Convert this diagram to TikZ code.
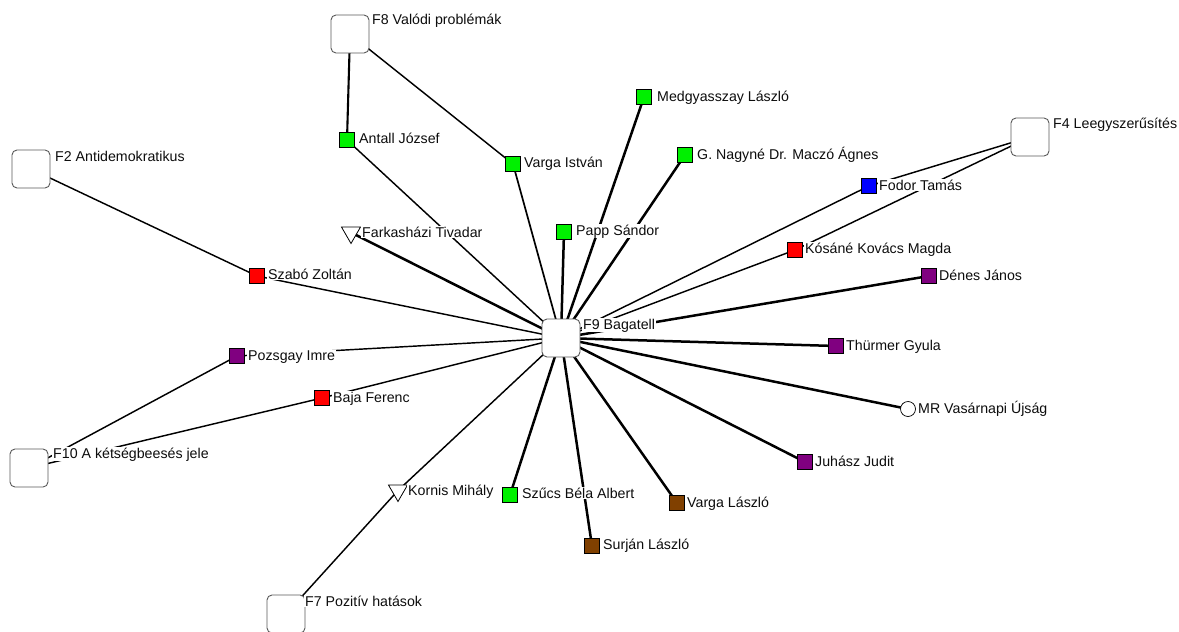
\documentclass[tikz,border=0pt]{standalone}
\usepackage{fontspec}
\setmainfont{Liberation Sans}
\usetikzlibrary{shapes.geometric,backgrounds}
\definecolor{vgreen}{RGB}{0,240,0}
\definecolor{vred}{RGB}{255,0,0}
\definecolor{vblue}{RGB}{0,0,255}
\definecolor{vpurple}{RGB}{128,0,128}
\definecolor{vbrown}{RGB}{128,64,0}
\begin{document}
\begin{tikzpicture}[x=1pt,y=-1pt,
  bigbox/.style={draw=black!65, fill=white, rounded corners=5pt, minimum size=38pt, inner sep=0pt, line width=0.9pt},
  sq/.style={draw=black, fill=#1, minimum size=15pt, inner sep=0pt, line width=0.7pt},
  tri/.style={draw=black, fill=white, regular polygon, regular polygon sides=3, shape border rotate=180, minimum size=22pt, inner sep=0pt, line width=0.8pt},
  circ/.style={draw=black, fill=white, circle, minimum size=15pt, inner sep=0pt, line width=0.7pt},
  lbl/.style={anchor=base west, fill=white, inner xsep=1pt, inner ysep=0.5pt, text=black!95, font=\fontsize{14.2pt}{16pt}\selectfont},
  tie/.style={line width=1.45pt, black},
  heavytie/.style={line width=2.5pt, black},
]
\useasboundingbox (0,0) rectangle (1179,632);

% big boxes
\node[bigbox] (F8) at (350,34) {};
\node[bigbox] (F2) at (31,169) {};
\node[bigbox] (F4) at (1030,137) {};
\node[bigbox] (F10) at (29,468) {};
\node[bigbox] (F7) at (286,614) {};
\node[bigbox] (F9) at (561,338) {};

% small nodes
\node[sq=vgreen] (antall) at (347,140) {};
\node[sq=vgreen] (vargai) at (513,164) {};
\node[sq=vgreen] (medgy) at (644,97) {};
\node[sq=vgreen] (nagy) at (685,155) {};
\node[sq=vgreen] (papp) at (564,232) {};
\node[sq=vblue] (fodor) at (869,186) {};
\node[sq=vred] (kosane) at (795,250) {};
\node[sq=vpurple] (denes) at (929,276) {};
\node[sq=vpurple] (thurmer) at (836,346) {};
\node[circ] (mr) at (908,409) {};
\node[sq=vpurple] (juhasz) at (805,462) {};
\node[sq=vbrown] (vargal) at (677,503) {};
\node[sq=vbrown] (surjan) at (592,546) {};
\node[sq=vgreen] (szucs) at (510,495) {};
\node[tri] (kornis) at (398,490.5) {};
\node[sq=vred] (baja) at (322,398) {};
\node[sq=vpurple] (pozsgay) at (237,356) {};
\node[sq=vred] (szabo) at (257,276) {};
\node[tri] (farkas) at (351,232.5) {};

% labels
\node[lbl] (lF8) at (371,24) {F8 Valódi problémák};
\node[lbl] (lF2) at (54,161) {F2 Antidemokratikus};
\node[lbl] (lF4) at (1052,128) {F4 Leegyszerűsítés};
\node[lbl] (lF10) at (52,458) {F10 A kétségbeesés jele};
\node[lbl] (lF7) at (304,606) {F7 Pozitív hatások};
\node[lbl] (lF9) at (582,329) {F9 Bagatell};
\node[lbl] (lantall) at (358,143) {Antall József};
\node[lbl] (lvargai) at (523,167) {Varga István};
\node[lbl] (lmedgy) at (656,101) {Medgyasszay László};
\node[lbl] (lnagy) at (696,159) {G. Nagyné Dr. Maczó Ágnes};
\node[lbl] (lpapp) at (575,235) {Papp Sándor};
\node[lbl] (lfodor) at (878,190) {Fodor Tamás};
\node[lbl] (lkosane) at (804,253) {Kósáné Kovács Magda};
\node[lbl] (ldenes) at (938,280) {Dénes János};
\node[lbl] (lthurmer) at (845,350) {Thürmer Gyula};
\node[lbl] (lmr) at (917,413) {MR Vasárnapi Újság};
\node[lbl] (ljuhasz) at (814,466) {Juhász Judit};
\node[lbl] (lvargal) at (686,507) {Varga László};
\node[lbl] (lsurjan) at (602,549) {Surján László};
\node[lbl] (lszucs) at (521,498) {Szűcs Béla Albert};
\node[lbl] (lkornis) at (407,495) {Kornis Mihály};
\node[lbl] (lbaja) at (332,402) {Baja Ferenc};
\node[lbl] (lpozsgay) at (247,360) {Pozsgay Imre};
\node[lbl] (lszabo) at (267,279) {Szabó Zoltán};
\node[lbl] (lfarkas) at (361,237) {Farkasházi Tivadar};

\begin{pgfonlayer}{background}
\draw[line width=2.1pt] (F8.center) -- (antall.center);
\draw[tie] (F8.center) -- (vargai.center);
\draw[tie] (antall.center) -- (F9.center);
\draw[tie, line width=1.7pt] (vargai.center) -- (F9.center);
\draw[heavytie] (medgy.center) -- (F9.center);
\draw[heavytie] (nagy.center) -- (F9.center);
\draw[heavytie] (papp.center) -- (F9.center);
\draw[heavytie] (farkas.center) -- (F9.center);
\draw[tie] (szabo.center) -- (F2.center);
\draw[tie] (szabo.center) -- (F9.center);
\draw[tie] (pozsgay.center) -- (F9.center);
\draw[tie] (pozsgay.center) -- (F10.center);
\draw[tie] (baja.center) -- (F9.center);
\draw[tie] (baja.center) -- (F10.center);
\draw[tie] (kornis.center) -- (F9.center);
\draw[tie] (kornis.center) -- (F7.center);
\draw[heavytie] (szucs.center) -- (F9.center);
\draw[heavytie] (surjan.center) -- (F9.center);
\draw[heavytie] (vargal.center) -- (F9.center);
\draw[heavytie] (juhasz.center) -- (F9.center);
\draw[heavytie] (mr.center) -- (F9.center);
\draw[heavytie] (thurmer.center) -- (F9.center);
\draw[heavytie] (denes.center) -- (F9.center);
\draw[tie] (kosane.center) -- (F9.center);
\draw[tie] (kosane.center) -- (F4.center);
\draw[tie] (fodor.center) -- (F9.center);
\draw[tie] (fodor.center) -- (F4.center);
\end{pgfonlayer}
\end{tikzpicture}
\end{document}
